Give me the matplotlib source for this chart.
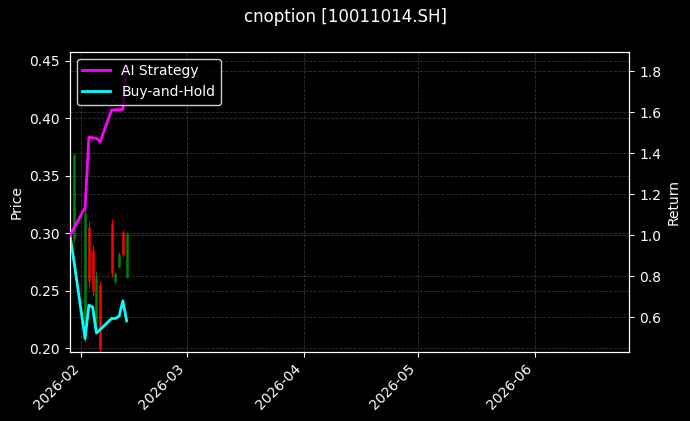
import matplotlib.pyplot as plt
import matplotlib.dates as mdates
import pandas as pd

dates = pd.to_datetime(['2026-01-29', '2026-01-30', '2026-02-02', '2026-02-03', '2026-02-04',
                        '2026-02-05', '2026-02-06', '2026-02-09', '2026-02-10', '2026-02-11',
                        '2026-02-12', '2026-02-13'])

# candle data from Jan 30 on
candle_dates = dates[1:]
opens = [0.295, 0.215, 0.305, 0.285, 0.220, 0.255, 0.308, 0.258, 0.271, 0.301, 0.262]
closes = [0.368, 0.318, 0.258, 0.250, 0.262, 0.200, 0.265, 0.265, 0.282, 0.281, 0.299]
highs = [0.370, 0.323, 0.311, 0.290, 0.267, 0.258, 0.312, 0.266, 0.284, 0.303, 0.301]
lows = [0.292, 0.205, 0.252, 0.245, 0.215, 0.190, 0.262, 0.257, 0.270, 0.279, 0.261]

ai_return = [1.0, 1.032, 1.135, 1.477, 1.475, 1.472, 1.455, 1.610, 1.612, 1.612, 1.613, 1.83]
bh_return = [1.0, 0.88, 0.496, 0.659, 0.650, 0.523, 0.540, 0.594, 0.594, 0.605, 0.680, 0.582]

plt.style.use('dark_background')
fig, ax1 = plt.subplots(figsize=(6.9, 4.21), dpi=100)
fig.subplots_adjust(left=0.1014, right=0.912, bottom=0.1646, top=0.877)

for d, o, c, h, l in zip(candle_dates, opens, closes, highs, lows):
    col = 'green' if c >= o else 'red'
    ax1.vlines(d, l, h, color=col, linewidth=0.8)
    ax1.vlines(d, min(o, c), max(o, c), color=col, linewidth=1.8)

ax1.set_ylabel('Price')
ax1.set_ylim(0.1968, 0.458)
ax1.grid(True, linestyle='--', color='gray', alpha=0.4, linewidth=0.6)

ax2 = ax1.twinx()
ax2.plot(dates, ai_return, color='magenta', linewidth=2, label='AI Strategy', zorder=3)
ax2.plot(dates, bh_return, color='cyan', linewidth=2, label='Buy-and-Hold', zorder=2)
ax2.set_ylabel('Return')
ax2.set_ylim(0.432, 1.894)
ax2.grid(True, linestyle='--', color='gray', alpha=0.4, linewidth=0.6)
ax2.legend(loc='upper left', facecolor='black', edgecolor='white')

ax1.set_xlim(pd.Timestamp('2026-01-29'), pd.Timestamp('2026-06-26'))
ax1.xaxis.set_major_locator(mdates.MonthLocator())
ax1.xaxis.set_major_formatter(mdates.DateFormatter('%Y-%m'))
plt.setp(ax1.get_xticklabels(), rotation=45, ha='right')

fig.suptitle('cnoption [10011014.SH]')
plt.savefig('out.png')
